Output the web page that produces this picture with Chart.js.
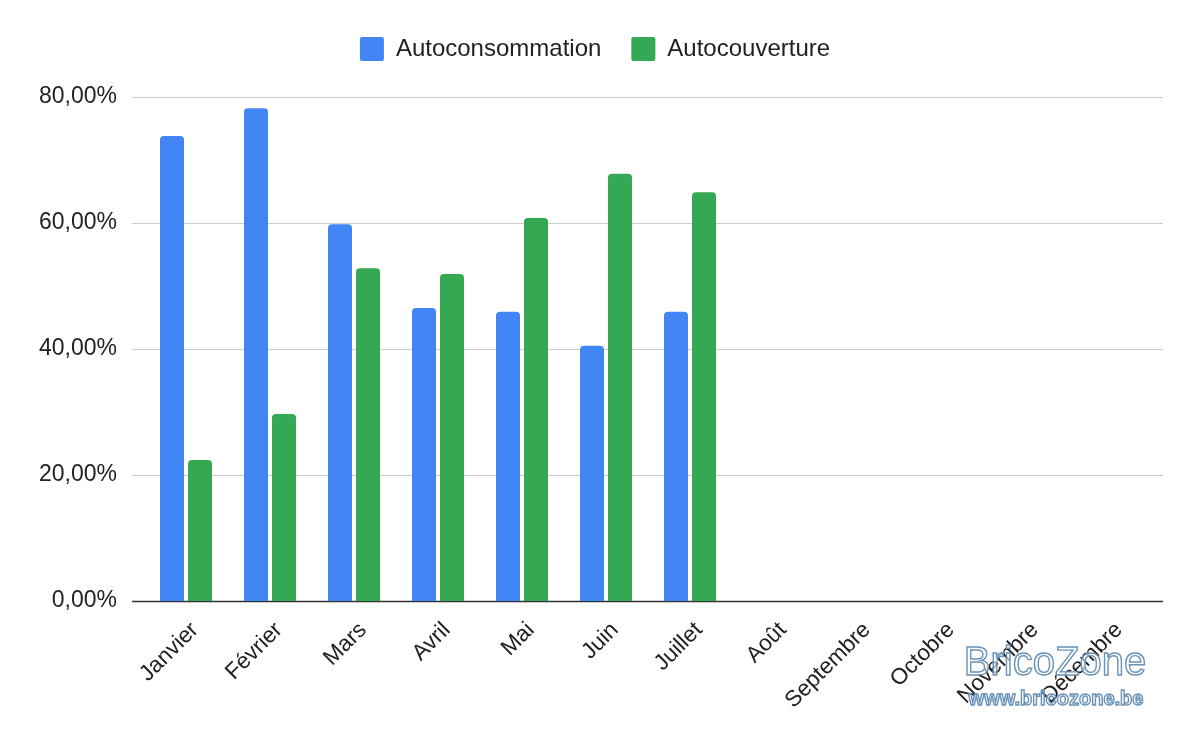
<!DOCTYPE html>
<html><head><meta charset="utf-8">
<script src="https://cdn.jsdelivr.net/npm/chart.js@4"></script>
<style>html,body{margin:0;padding:0;background:#fff}#wrap{width:1200px;height:742px;position:relative}</style>
</head><body><div id="wrap"><canvas id="c" width="1200" height="742"></canvas></div>
<script>
const categories = ["Janvier","Février","Mars","Avril","Mai","Juin","Juillet","Août","Septembre","Octobre","Novembre","Décembre"];
const autoconsommation = [73.8, 78.2, 59.8, 46.5, 45.9, 40.5, 45.9, null, null, null, null, null];
const autocouverture = [22.4, 29.7, 52.8, 51.9, 60.8, 67.8, 64.9, null, null, null, null, null];
const yTicks = [0, 20, 40, 60, 80];
const seriesNames = ["Autoconsommation","Autocouverture"];
const FONT = "Arial, 'Liberation Sans', sans-serif";

const legendHeightPlugin = {
  id: 'legendHeight',
  beforeInit(chart) {
    const orig = chart.legend.fit;
    chart.legend.fit = function () { orig.call(this); this.height = 90; };
  },
  beforeDraw(chart) {
    chart.legend.left = 0;
    chart.legend.right = chart.width - 10;
  }
};

const gridPlugin = {
  id: 'gridExt',
  beforeDatasetsDraw(chart) {
    const ctx = chart.ctx, y = chart.scales.y;
    ctx.save();
    yTicks.forEach(v => {
      const py = Math.round(y.getPixelForValue(v)) + 0.5;
      ctx.beginPath();
      ctx.strokeStyle = v === 0 ? '#333333' : '#cccccc';
      ctx.lineWidth = v === 0 ? 1.5 : 1.2;
      ctx.moveTo(132, py); ctx.lineTo(1163, py); ctx.stroke();
    });
    ctx.restore();
  },
  afterDraw(chart) {
    const ctx = chart.ctx;
    ctx.save();
    ctx.strokeStyle = '#6a93b8';
    ctx.fillStyle = 'rgba(255,255,255,0.6)';
    ctx.lineWidth = 1.4;
    ctx.textAlign = 'center';
    ctx.textBaseline = 'alphabetic';
    ctx.font = "40px " + FONT;
    ctx.fillText('BricoZone', 1055, 675);
    ctx.strokeText('BricoZone', 1055, 675);
    ctx.font = "bold 20px " + FONT;
    ctx.fillText('www.bricozone.be', 1056, 705);
    ctx.strokeText('www.bricozone.be', 1056, 705);
    ctx.restore();
  }
};

new Chart(document.getElementById('c'), {
  type: 'bar',
  data: {
    labels: categories,
    datasets: [
      { label: seriesNames[0], data: autoconsommation, backgroundColor: '#4285f4', borderRadius: {topLeft:4, topRight:4}, borderSkipped: 'bottom' },
      { label: seriesNames[1], data: autocouverture, backgroundColor: '#34a853', borderRadius: {topLeft:4, topRight:4}, borderSkipped: 'bottom' }
    ]
  },
  options: {
    responsive: false,
    animation: false,
    layout: { padding: { top: 7, right: 48, bottom: 0, left: 0 } },
    datasets: { bar: { categoryPercentage: 0.667, barPercentage: 0.857 } },
    plugins: {
      legend: {
        position: 'top',
        labels: { font: { family: FONT, size: 24 }, color: '#222', boxWidth: 24, boxHeight: 24, padding: 30, useBorderRadius: true, borderRadius: 2 }
      },
      tooltip: { enabled: false }
    },
    scales: {
      x: {
        grid: { display: false, drawTicks: false },
        border: { display: false },
        ticks: { font: { family: FONT, size: 22.5 }, color: '#222', maxRotation: 45, minRotation: 45, padding: 16, labelOffset: 9, autoSkip: false },
        afterFit(s) { s.height = 141; }
      },
      y: {
        min: 0, max: 80,
        grid: { display: false, drawTicks: false },
        border: { display: false },
        afterBuildTicks(s) { s.ticks = yTicks.map(v => ({ value: v })); },
        ticks: { font: { family: FONT, size: 23 }, color: '#222', padding: 27,
          callback: v => v.toFixed(2).replace('.', ',') + '%' },
        afterFit(s) { s.width = 144; }
      }
    }
  },
  plugins: [gridPlugin, legendHeightPlugin]
});
</script></body></html>
